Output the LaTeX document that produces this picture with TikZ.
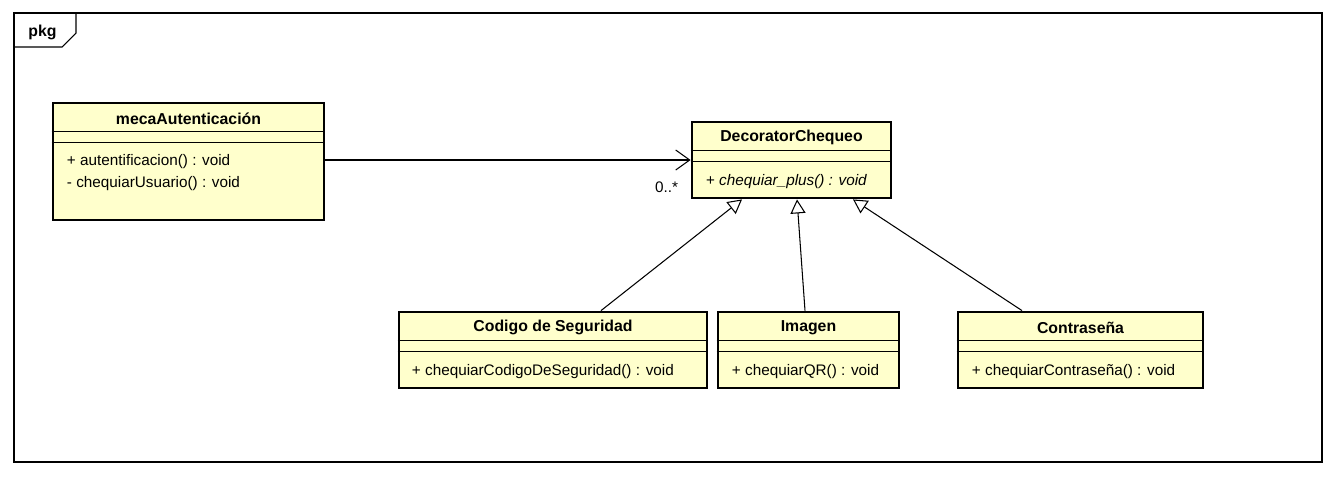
\documentclass[tikz,border=0pt]{standalone}
\usepackage{fontspec}
\setmainfont{Liberation Sans}
\usetikzlibrary{arrows.meta,positioning}
\definecolor{classfill}{RGB}{255,255,204}
\tikzset{
classbox/.style={rectangle, draw=black!100, fill=classfill, line width=1.6pt, inner sep=0pt},
classname/.style={font=\fontsize{9}{11}\selectfont\bfseries, inner sep=0pt},
methodtext/.style={font=\fontsize{8.7}{10}\selectfont, inner sep=0pt, anchor=west},
divider/.style={draw=black!100, line width=0.6pt},
generalization/.style={draw=black!100, line width=0.6pt, -{Triangle[open, length=0.28cm, width=0.3cm, fill=white]}},
association/.style={draw=black!100, line width=0.6pt, -{Straight Barb[length=0.28cm, width=0.4cm]}},
}
\begin{document}
\begin{tikzpicture}
    \useasboundingbox (0,0) rectangle (26.68,-9.52);
    % package frame
    \draw[line width=0.6pt] (0.28,-0.26) rectangle (26.44,-9.24);
    \draw[line width=0.6pt] (0.28,-0.94) -- (1.24,-0.94) -- (1.52,-0.66) -- (1.52,-0.26);
    \node[classname] at (0.85,-0.64) (pkg) {pkg};
    % classes
    \node[classbox, minimum width=5.42cm, minimum height=2.34cm] at (3.77,-3.23) (meca) {};
    \node[classbox, minimum width=3.98cm, minimum height=1.52cm] at (15.83,-3.2) (deco) {};
    \node[classbox, minimum width=6.16cm, minimum height=1.52cm] at (11.06,-7.0) (codigo) {};
    \node[classbox, minimum width=3.62cm, minimum height=1.52cm] at (16.17,-7.0) (imagen) {};
    \node[classbox, minimum width=4.9cm, minimum height=1.52cm] at (21.61,-7.0) (contra) {};
    % compartments
    \draw[divider] ([yshift=-0.6cm]meca.north west) -- ([yshift=-0.6cm]meca.north east);
    \draw[divider] ([yshift=-0.81cm]meca.north west) -- ([yshift=-0.81cm]meca.north east);
    \draw[divider] ([yshift=-0.6cm]deco.north west) -- ([yshift=-0.6cm]deco.north east);
    \draw[divider] ([yshift=-0.81cm]deco.north west) -- ([yshift=-0.81cm]deco.north east);
    \draw[divider] ([yshift=-0.6cm]codigo.north west) -- ([yshift=-0.6cm]codigo.north east);
    \draw[divider] ([yshift=-0.81cm]codigo.north west) -- ([yshift=-0.81cm]codigo.north east);
    \draw[divider] ([yshift=-0.6cm]imagen.north west) -- ([yshift=-0.6cm]imagen.north east);
    \draw[divider] ([yshift=-0.81cm]imagen.north west) -- ([yshift=-0.81cm]imagen.north east);
    \draw[divider] ([yshift=-0.6cm]contra.north west) -- ([yshift=-0.6cm]contra.north east);
    \draw[divider] ([yshift=-0.81cm]contra.north west) -- ([yshift=-0.81cm]contra.north east);
    % names and operations
    \node[classname] at ([yshift=-0.34cm]meca.north) (mecaname) {mecaAutenticación};
    \node[methodtext] at ([shift={(0.3,-1.19)}]meca.north west) (mecaop1) {+ autentificacion() : void};
    \node[methodtext] at ([shift={(0.3,-1.63)}]meca.north west) (mecaop2) {- chequiarUsuario() : void};
    \node[classname] at ([yshift=-0.34cm]deco.north) (deconame) {DecoratorChequeo};
    \node[methodtext, font=\fontsize{8.7}{10}\selectfont\itshape] at ([shift={(0.3,-1.21)}]deco.north west) (decoop) {+ chequiar\_plus() : void};
    \node[classname] at ([yshift=-0.34cm]codigo.north) (codigoname) {Codigo de Seguridad};
    \node[methodtext] at ([shift={(0.28,-1.21)}]codigo.north west) (codigoop) {+ chequiarCodigoDeSeguridad() : void};
    \node[classname] at ([yshift=-0.34cm]imagen.north) (imagenname) {Imagen};
    \node[methodtext] at ([shift={(0.3,-1.21)}]imagen.north west) (imagenop) {+ chequiarQR() : void};
    \node[classname] at ([yshift=-0.34cm]contra.north) (contraname) {Contraseña};
    \node[methodtext] at ([shift={(0.3,-1.21)}]contra.north west) (contraop) {+ chequiarContraseña() : void};
    % relations
    \draw[association] (meca.east |- deco.west) to (deco.west);
    \node[methodtext, anchor=center] at ([shift={(-0.48,-0.54)}]deco.west) (mult) {0..*};
    \draw[generalization] ([xshift=0.96cm]codigo.north) to ([xshift=-0.99cm]deco.south);
    \draw[generalization] ([xshift=-0.07cm]imagen.north) to ([xshift=0.11cm]deco.south);
    \draw[generalization] ([xshift=-1.17cm]contra.north) to ([xshift=1.23cm]deco.south);
\end{tikzpicture}
\end{document}
